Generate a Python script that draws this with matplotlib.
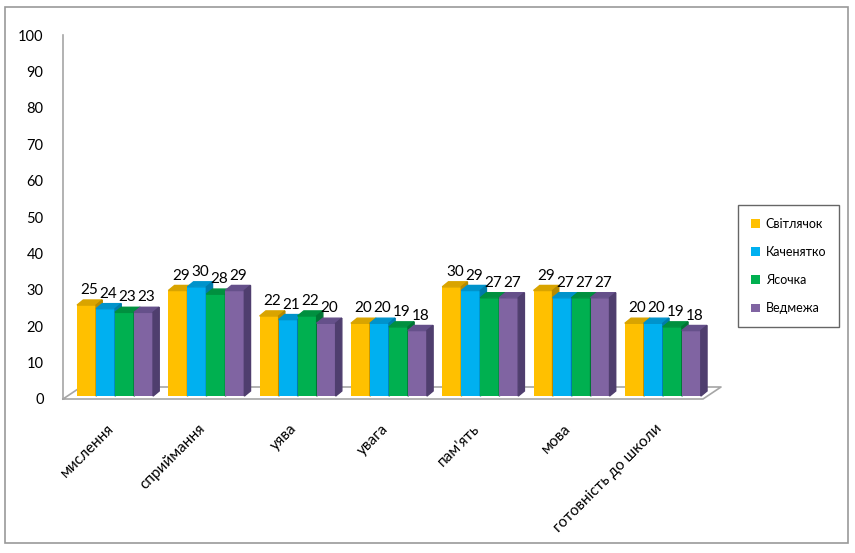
import matplotlib.pyplot as plt
from matplotlib.patches import Polygon, Rectangle
from matplotlib.transforms import ScaledTranslation
import numpy as np

plt.rcParams['font.family'] = ['Lato', 'DejaVu Sans']

categorias = ['мислення', 'сприймання', 'уява', 'увага', "пам'ять", 'мова', 'готовність до школи']
series = ['Світлячок', 'Каченятко', 'Ясочка', 'Ведмежа']
svitlyachok = [25, 29, 22, 20, 30, 29, 20]
kachenyatko = [24, 30, 21, 20, 29, 27, 20]
yasochka = [23, 28, 22, 19, 27, 27, 19]
vedmezha = [23, 29, 20, 18, 27, 27, 18]
valores = [svitlyachok, kachenyatko, yasochka, vedmezha]

cores = ['#FFC000', '#00B0F0', '#00B050', '#8064A2']
cores_topo = ['#D9A400', '#0093CB', '#00903F', '#65508A']
cores_lado = ['#B78A00', '#007BAA', '#007534', '#4F3E6E']

fig = plt.figure(figsize=(8.55, 5.53), dpi=100)
ax = fig.add_axes([63 / 855, 154 / 553, 659 / 855, 364 / 553])

largura = 0.208
dx, dy = 0.068, 1.4   # profundidade do efeito 3D
base = 0.8
x = np.arange(len(categorias))

for i, (vals, c, ct, cl) in enumerate(zip(valores, cores, cores_topo, cores_lado)):
    xs = x + (i - 1.5) * largura
    ax.bar(xs, vals, largura, bottom=base, color=c, label=series[i], zorder=3 + i)
    for xi, v in zip(xs, vals):
        x0, x1 = xi - largura / 2, xi + largura / 2
        topo = base + v
        ax.add_patch(Polygon([(x0, topo), (x1, topo), (x1 + dx, topo + dy), (x0 + dx, topo + dy)],
                             closed=True, color=ct, zorder=3 + i))
        ax.add_patch(Polygon([(x1, base), (x1, topo), (x1 + dx, topo + dy), (x1 + dx, base + dy)],
                             closed=True, color=cl, zorder=3 + i))
        ax.annotate(f'{v}', (xi + dx / 2, topo + dy), xytext=(0, 2), textcoords='offset points',
                    ha='center', va='bottom', fontsize=11, zorder=10)

ax.set_xlim(-0.57, 6.648)
ax.set_ylim(0, 100)
ax.set_yticks(range(0, 101, 10))
ax.set_xticks(x)
ax.set_xticklabels(categorias, rotation=45, ha='right', rotation_mode='anchor', fontsize=11)
ax.tick_params(axis='both', length=0)
ax.tick_params(axis='y', pad=14, labelsize=10.5)
ax.tick_params(axis='x', pad=15)
desloc = ScaledTranslation(-8 / 100, -2 / 100, fig.dpi_scale_trans)
for lbl in ax.get_xticklabels():
    lbl.set_transform(lbl.get_transform() + desloc)
for s in ax.spines.values():
    s.set_visible(False)

# eixo vertical e chão
cinza = '#A6A6A6'
ax.plot([0, 0], [0, 1], color=cinza, lw=1.2, transform=ax.transAxes, clip_on=False)
fx = 640 / 659
fdx = 18 / 659
fdy = 12 / 364
chao = [(0, 0), (fx, 0), (fx + fdx, fdy), (fdx, fdy), (0, 0)]
ax.plot([p[0] for p in chao], [p[1] for p in chao], color=cinza, lw=1.2,
        transform=ax.transAxes, clip_on=False, zorder=1)

handles, labels = ax.get_legend_handles_labels()
leg = fig.legend(handles, labels, loc='center left', bbox_to_anchor=(732 / 855, 1 - 266 / 553),
                 fontsize=9, frameon=True, fancybox=False, edgecolor='#404040',
                 handlelength=0.7, handleheight=0.7, labelspacing=1.3, borderpad=1.0,
                 handletextpad=0.5)
leg.get_frame().set_linewidth(1.0)

fig.patches.append(Rectangle((5 / 855, 10 / 553), 843 / 855, 536 / 553, transform=fig.transFigure,
                             fill=False, edgecolor='#999999', lw=1.2))

plt.savefig('out.png', dpi=100)
